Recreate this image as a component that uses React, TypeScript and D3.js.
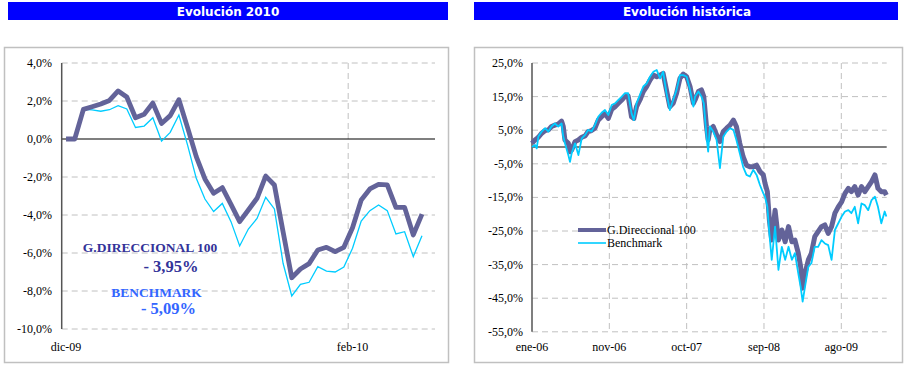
import React from "react";
import * as d3 from "d3";

// ---------- Left chart: Evolución 2010 ----------
const ytdDirec: number[] = [
  0, 0, 1.56, 1.7, 1.84, 2.03, 2.53, 2.21, 1.12, 1.3, 1.89, 0.82, 1.23, 2.07,
  0.6, -0.93, -2.1, -2.86, -2.56, -3.44, -4.35, -3.74, -3.12, -1.95, -2.42,
  -4.88, -7.3, -6.84, -6.56, -5.84, -5.7, -5.93, -5.7, -4.67, -3.21, -2.63,
  -2.39, -2.42, -3.6, -3.6, -5.05, -3.95,
];
const ytdBench: number[] = [
  0, 0, 1.56, 1.53, 1.46, 1.54, 1.75, 1.58, 0.61, 0.68, 1.12, -0.11, 0.35,
  1.26, -0.32, -2.07, -3.16, -3.82, -3.39, -4.35, -5.63, -4.74, -4.18, -3.07,
  -3.68, -6.54, -8.26, -7.65, -7.54, -6.72, -6.95, -7.0, -6.74, -5.75, -4.32,
  -3.77, -3.47, -3.77, -5.0, -4.88, -6.19, -5.09,
];
const ytdTicks: number[] = [4, 2, 0, -2, -4, -6, -8, -10];
const ytdCatCount = 43;
const ytdLabels: { cat: number; text: string }[] = [
  { cat: 0, text: "dic-09" },
  { cat: 33, text: "feb-10" },
];

// ---------- Right chart: Evolución histórica ----------
const histDay: number[] = [
  0, 9, 14, 19, 29, 39, 49, 58, 68, 78, 88, 93, 98, 108, 113, 118, 128, 138,
  148, 158, 167, 177, 187, 197, 207, 217, 227, 237, 247, 257, 267, 276, 286,
  296, 303, 311, 321, 331, 341, 351, 361, 371, 381, 390, 400, 410, 420, 430,
  440, 450, 460, 470, 480, 485, 495, 504, 511, 519, 524, 529, 539, 549, 559,
  569, 579, 589, 599, 608, 618, 628, 638, 648, 658, 668, 678, 688, 693, 700,
  706, 713, 723, 733, 743, 753, 763, 773, 782, 792, 799, 805, 812, 822, 831,
  841, 851, 861, 871, 881, 891, 901, 911, 921, 931, 941, 950, 960, 970, 980,
  990, 1000, 1010, 1020, 1029, 1039, 1049, 1054,
];
const histDirec: number[] = [
  1.1, 2.1, 2.5, 2.9, 4.1, 4.9, 5.1, 6.1, 6.5, 6.8, 7.7, 6.1, 2.1, 1.1, -1.4,
  -0.9, 1.6, 2.1, 2.9, 3.3, 4.6, 4.9, 5.6, 8.0, 9.0, 10.0, 8.5, 11.2, 12.0,
  13.0, 14.0, 15.0, 15.2, 9.0, 8.5, 12.0, 14.0, 16.5, 18.0, 19.9, 21.4, 20.9,
  21.4, 21.9, 17.0, 12.0, 13.0, 16.0, 20.4, 21.7, 20.9, 18.0, 13.0, 14.0, 16.5,
  17.0, 15.0, 6.1, 2.1, 5.1, 6.1, 3.6, 1.6, 4.6, 5.6, 6.5, 8.0, 6.1, 1.1, -2.9,
  -5.4, -5.9, -5.9, -5.4, -7.3, -8.3, -10.8, -13.3, -21.7, -27.7, -18.8, -27.7,
  -24.7, -28.2, -23.7, -28.2, -27.7, -31.6, -35.6, -42.0, -37.6, -33.6, -31.6,
  -26.7, -25.2, -23.7, -23.2, -25.7, -23.7, -19.7, -17.8, -16.3, -13.8, -12.3,
  -13.3, -11.8, -14.3, -11.8, -13.3, -11.8, -10.3, -8.3, -12.3, -13.3, -13.3,
  -14.3,
];
const histBench: number[] = [
  0, 0.6, -0.4, 3.1, 4.6, 5.6, 4.6, 6.1, 7.0, 6.1, 7.0, 3.1, 1.1, -2.4, -4.4,
  -1.9, 1.1, -2.4, 2.6, 3.6, 5.1, 4.6, 6.5, 9.0, 10.2, 11.0, 9.5, 12.5, 13.0,
  14.0, 15.0, 16.0, 16.0, 10.0, 8.0, 13.0, 15.5, 18.0, 18.9, 20.9, 22.4, 22.9,
  20.4, 22.4, 16.0, 11.0, 14.0, 17.0, 21.4, 21.4, 20.9, 17.0, 12.0, 15.0, 16.5,
  15.0, 13.0, 3.1, -1.4, 6.1, 4.6, 2.1, -6.3, 3.1, 4.6, 5.6, 5.1, 2.1, -1.9,
  -5.9, -8.3, -8.8, -6.8, -8.3, -11.3, -13.8, -14.8, -17.8, -25.7, -33.6,
  -23.7, -36.6, -29.7, -33.6, -29.7, -33.6, -31.6, -37.6, -41.6, -46.0, -41.6,
  -35.6, -34.6, -29.7, -29.7, -27.7, -28.7, -29.2, -33.6, -24.7, -22.7, -20.7,
  -19.2, -18.8, -19.7, -17.8, -22.7, -16.8, -17.3, -18.8, -15.8, -14.8, -17.8,
  -22.7, -19.2, -20.7,
];
const histTicks: number[] = [25, 15, 5, -5, -15, -25, -35, -45, -55];
const histDayCount = 1055;
const histLabels: { day: number; text: string }[] = [
  { day: 0, text: "ene-06" },
  { day: 230, text: "nov-06" },
  { day: 460, text: "oct-07" },
  { day: 690, text: "sep-08" },
  { day: 920, text: "ago-09" },
];

const DARK = "#636399";
const CYAN = "#00CCFF";
const GRID = "#C0C0C0";
const SERIF = "'Liberation Serif', 'Times New Roman', serif";
const TICK_SIZE = 12;
const fmt = (v: number, d = 1) => v.toFixed(d).replace(".", ",") + "%";
const fmtNeg = (v: number) => "- " + fmt(Math.abs(v), 2);

function LeftChart() {
  const x = d3.scaleLinear().domain([0, ytdCatCount]).range([61.7, 435]);
  const y = d3.scaleLinear().domain([-10, 4]).range([329, 63]);
  const line = d3
    .line<number>()
    .x((_, i) => x(i + 0.5))
    .y((v) => y(v));
  return (
    <g>
      <rect x={8} y={2} width={440} height={18} fill="#0000FF" />
      <text x={228} y={15.5} textAnchor="middle" fill="#fff" fontFamily="'DejaVu Sans', Verdana, sans-serif" fontWeight="bold" fontSize={12}>
        Evolución 2010
      </text>
      <rect x={4.5} y={47.5} width={444} height={315} fill="#fff" stroke="#C0C0C0" strokeWidth={1.5} />
      {ytdTicks.map((t) => (
        <g key={t}>
          {t !== 0 && (
            <line x1={x(0)} x2={x(ytdCatCount)} y1={y(t)} y2={y(t)} stroke={GRID} strokeDasharray="6,4" />
          )}
          <text x={52} y={y(t) + 4} textAnchor="end" fontFamily={SERIF} fontSize={TICK_SIZE} fill="#000">
            {fmt(t)}
          </text>
        </g>
      ))}
      {ytdLabels.slice(1).map((l) => (
        <line key={l.text} x1={x(l.cat)} x2={x(l.cat)} y1={y(4)} y2={y(-10)} stroke={GRID} strokeDasharray="6,4" />
      ))}
      {ytdLabels.map((l) => (
        <text key={l.text} x={x(l.cat + 0.5)} y={351} textAnchor="middle" fontFamily={SERIF} fontSize={TICK_SIZE} fill="#000">
          {l.text}
        </text>
      ))}
      <line x1={x(0)} x2={x(ytdCatCount)} y1={y(0)} y2={y(0)} stroke="#000" strokeWidth={1.2} />
      <line x1={x(0)} x2={x(0)} y1={y(4)} y2={y(-10)} stroke="#555" strokeWidth={1.5} />
      <path d={line(ytdBench) ?? ""} fill="none" stroke={CYAN} strokeWidth={1.3} />
      <path d={line(ytdDirec) ?? ""} fill="none" stroke={DARK} strokeWidth={4.8} strokeLinejoin="round" />
      <text x={150} y={252} textAnchor="middle" fontFamily={SERIF} fontWeight="bold" fontSize={13.5} fill="#333399">
        G.DIRECCIONAL 100
      </text>
      <text x={171} y={272} textAnchor="middle" fontFamily={SERIF} fontWeight="bold" fontSize={16.5} fill="#333399">
        {fmtNeg(ytdDirec[ytdDirec.length - 1])}
      </text>
      <text x={156.5} y={297} textAnchor="middle" fontFamily={SERIF} fontWeight="bold" fontSize={13.5} fill="#3366FF">
        BENCHMARK
      </text>
      <text x={168.5} y={314} textAnchor="middle" fontFamily={SERIF} fontWeight="bold" fontSize={16.5} fill="#3366FF">
        {fmtNeg(ytdBench[ytdBench.length - 1])}
      </text>
    </g>
  );
}

function RightChart() {
  const x = d3.scaleLinear().domain([0, histDayCount]).range([532, 886.7]);
  const y = d3.scaleLinear().domain([-55, 25]).range([331.8, 63]);
  const line = d3
    .line<number>()
    .x((_, i) => x(histDay[i]))
    .y((v) => y(v));
  return (
    <g>
      <rect x={474} y={2} width={424} height={18} fill="#0000FF" />
      <text x={687} y={15.5} textAnchor="middle" fill="#fff" fontFamily="'DejaVu Sans', Verdana, sans-serif" fontWeight="bold" fontSize={12}>
        Evolución histórica
      </text>
      <rect x={474.5} y={47.5} width={428} height={315} fill="#fff" stroke="#C0C0C0" strokeWidth={1.5} />
      {histTicks.map((t) => (
        <g key={t}>
          <line x1={x(0)} x2={x(histDayCount)} y1={y(t)} y2={y(t)} stroke={GRID} strokeDasharray="6,4" />
          <text x={523} y={y(t) + 4} textAnchor="end" fontFamily={SERIF} fontSize={TICK_SIZE} fill="#000">
            {fmt(t)}
          </text>
        </g>
      ))}
      {histLabels.slice(1).map((l) => (
        <line key={l.text} x1={x(l.day)} x2={x(l.day)} y1={y(25)} y2={y(-55)} stroke={GRID} strokeDasharray="6,4" />
      ))}
      {histLabels.map((l) => (
        <text key={l.text} x={x(l.day)} y={351} textAnchor="middle" fontFamily={SERIF} fontSize={TICK_SIZE} fill="#000">
          {l.text}
        </text>
      ))}
      <line x1={x(0)} x2={x(histDayCount)} y1={y(0)} y2={y(0)} stroke="#000" strokeWidth={1.2} />
      <line x1={x(0)} x2={x(0)} y1={y(25)} y2={y(-55)} stroke="#555" strokeWidth={1.5} />
      <path d={line(histDirec) ?? ""} fill="none" stroke={DARK} strokeWidth={5} strokeLinejoin="round" />
      <path d={line(histBench) ?? ""} fill="none" stroke={CYAN} strokeWidth={1.8} strokeLinejoin="round" />
      <line x1={578} x2={606} y1={230} y2={230} stroke={DARK} strokeWidth={4} />
      <text x={607} y={234} fontFamily={SERIF} fontSize={12} fill="#000">
        G.Direccional 100
      </text>
      <line x1={578} x2={606} y1={243} y2={243} stroke={CYAN} strokeWidth={1.6} />
      <text x={607} y={247} fontFamily={SERIF} fontSize={12} fill="#000">
        Benchmark
      </text>
    </g>
  );
}

export default function App() {
  return (
    <svg
      width={906}
      height={365}
      style={{ position: "absolute", left: 0, top: 0, background: "#fff" }}
    >
      <rect width={906} height={365} fill="#fff" />
      <LeftChart />
      <RightChart />
    </svg>
  );
}
